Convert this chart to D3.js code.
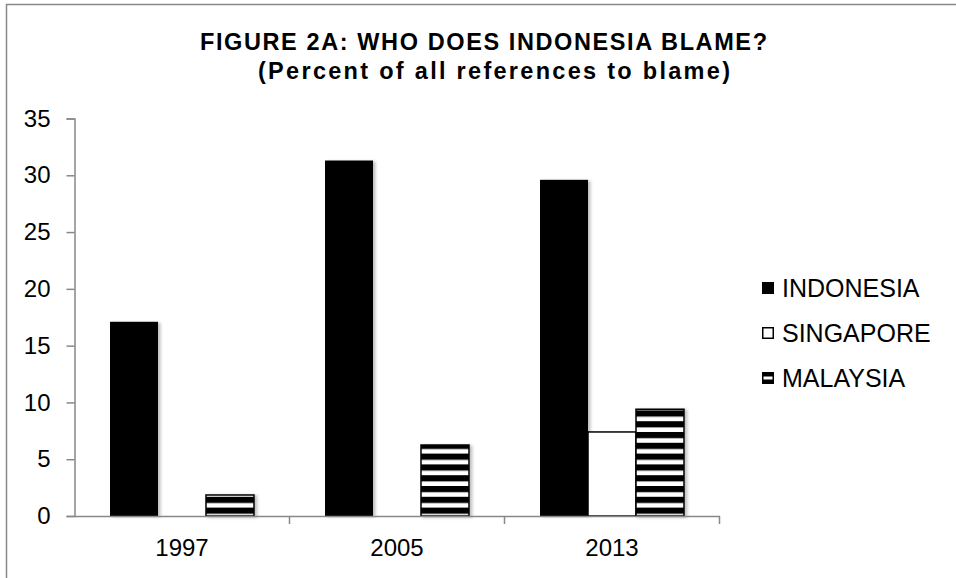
<!DOCTYPE html>
<html>
<head>
<meta charset="utf-8">
<script src="https://cdn.jsdelivr.net/npm/d3@7.9.0/dist/d3.min.js"></script>
<style>
  body { margin: 0; background: #fff; }
  svg { display: block; font-family: "Liberation Sans", Arial, sans-serif; }
</style>
</head>
<body>
<div id="chart"></div>
<script>
// chart data
const years = ['1997', '2005', '2013'];
const seriesNames = ['INDONESIA', 'SINGAPORE', 'MALAYSIA'];
const indonesia = [17.1, 31.3, 29.6];
const singapore = [0, 0, 7.4];
const malaysia = [1.85, 6.25, 9.4];
const yTicks = [0, 5, 10, 15, 20, 25, 30, 35];
const titleLines = ['FIGURE 2A: WHO DOES INDONESIA  BLAME?', '(Percent of all references to blame)'];

const width = 956;
const height = 578;
const margin = { top: 118.5, right: 236.5, bottom: 62, left: 74.5 };

const usableArea = {
  top: margin.top,
  right: width - margin.right,
  bottom: height - margin.bottom,
  left: margin.left,
};

const svg = d3.select('#chart')
  .append('svg')
  .attr('width', width)
  .attr('height', height);

const defs = svg.append('defs');

// horizontal stripes for Malaysia
const stripes = defs.append('pattern')
  .attr('id', 'stripes')
  .attr('patternUnits', 'userSpaceOnUse')
  .attr('width', 10)
  .attr('height', 10.8);
stripes.append('rect').attr('width', 10).attr('height', 10.8).attr('fill', '#fff');
stripes.append('rect').attr('width', 10).attr('height', 6.2).attr('fill', '#000');

// soft shadow like the excel bars
defs.append('filter')
  .attr('id', 'shadow')
  .attr('x', '-20%').attr('y', '-20%').attr('width', '150%').attr('height', '140%')
  .append('feDropShadow')
  .attr('dx', 2.5).attr('dy', 1)
  .attr('stdDeviation', 1.5)
  .attr('flood-color', '#000')
  .attr('flood-opacity', 0.25);

// outer frame
svg.append('rect')
  .attr('x', 6.5).attr('y', 4.5)
  .attr('width', 1000).attr('height', 1000)
  .attr('fill', 'none')
  .attr('stroke', '#888')
  .attr('stroke-width', 1.5);

// title
const title = svg.append('g').attr('class', 'title');
title.append('text')
  .attr('x', 200).attr('y', 50)
  .attr('textLength', 567).attr('lengthAdjust', 'spacing')
  .attr('font-size', 23.5).attr('font-weight', 'bold')
  .text(titleLines[0]);
title.append('text')
  .attr('x', 258).attr('y', 79)
  .attr('textLength', 472).attr('lengthAdjust', 'spacing')
  .attr('font-size', 23.5).attr('font-weight', 'bold')
  .text(titleLines[1]);

const x0 = d3.scaleBand()
  .domain(years)
  .range([usableArea.left, usableArea.right])
  .paddingInner(0)
  .paddingOuter(0);

const x1 = d3.scaleBand()
  .domain(seriesNames)
  .range([0, x0.bandwidth()])
  .paddingInner(0)
  .paddingOuter(0.74);

const yScale = d3.scaleLinear().domain([0, 35]).range([usableArea.bottom, usableArea.top]);

const fills = { INDONESIA: '#000', SINGAPORE: '#fff', MALAYSIA: 'url(#stripes)' };
const valuesBySeries = { INDONESIA: indonesia, SINGAPORE: singapore, MALAYSIA: malaysia };

const rows = years.flatMap((year, i) =>
  seriesNames.map((s) => ({ year, series: s, value: valuesBySeries[s][i] }))
);

// bars
svg.append('g')
  .attr('class', 'bars')
  .selectAll('rect')
  .data(rows.filter((d) => d.value > 0))
  .join('rect')
  .attr('x', (d) => x0(d.year) + x1(d.series))
  .attr('y', (d) => yScale(d.value))
  .attr('width', x1.bandwidth())
  .attr('height', (d) => yScale(0) - yScale(d.value))
  .attr('fill', (d) => fills[d.series])
  .attr('stroke', (d) => (d.series === 'INDONESIA' ? 'none' : '#000'))
  .attr('stroke-width', 1.5)
  .attr('filter', (d) => (d.series === 'SINGAPORE' ? null : 'url(#shadow)'));

// y axis
const yAxis = svg.append('g')
  .attr('transform', `translate(${usableArea.left}, 0)`)
  .call(d3.axisLeft(yScale).tickValues(yTicks).tickSize(8).tickPadding(16));
yAxis.selectAll('path, line').attr('stroke', '#888').attr('stroke-width', 1.5);
yAxis.selectAll('text').attr('font-size', 24).attr('fill', '#000')
  .attr('font-family', '"Liberation Sans", Arial, sans-serif');

// x axis
const xAxis = svg.append('g')
  .attr('transform', `translate(0, ${usableArea.bottom})`)
  .call(d3.axisBottom(x0).tickSize(0).tickPadding(23));
xAxis.select('path').attr('stroke', '#888').attr('stroke-width', 1.5);
xAxis.selectAll('text').attr('font-size', 24).attr('fill', '#000')
  .attr('font-family', '"Liberation Sans", Arial, sans-serif');
xAxis.selectAll('.boundary')
  .data(years.slice(1).concat([null]))
  .join('line')
  .attr('class', 'boundary')
  .attr('x1', (d) => (d ? x0(d) : usableArea.right))
  .attr('x2', (d) => (d ? x0(d) : usableArea.right))
  .attr('y1', 0).attr('y2', 8)
  .attr('stroke', '#888').attr('stroke-width', 1.5);

// legend
const legend = svg.append('g')
  .attr('class', 'legend')
  .attr('transform', 'translate(762, 288)');
const item = legend.selectAll('g')
  .data(seriesNames)
  .join('g')
  .attr('transform', (d, i) => `translate(0, ${i * 45})`);
item.append('rect')
  .attr('x', 0.75).attr('y', -5.25)
  .attr('width', 10.5).attr('height', 10.5)
  .attr('fill', (d) => (d === 'MALAYSIA' ? '#000' : fills[d]))
  .attr('stroke', '#000').attr('stroke-width', 1.5);
item.filter((d) => d === 'MALAYSIA').append('rect')
  .attr('x', 1.5).attr('y', -1.5).attr('width', 9).attr('height', 3)
  .attr('fill', '#fff');
item.append('text')
  .attr('x', 20).attr('dy', '0.35em')
  .attr('font-size', 25)
  .text((d) => d);
</script>
</body>
</html>
